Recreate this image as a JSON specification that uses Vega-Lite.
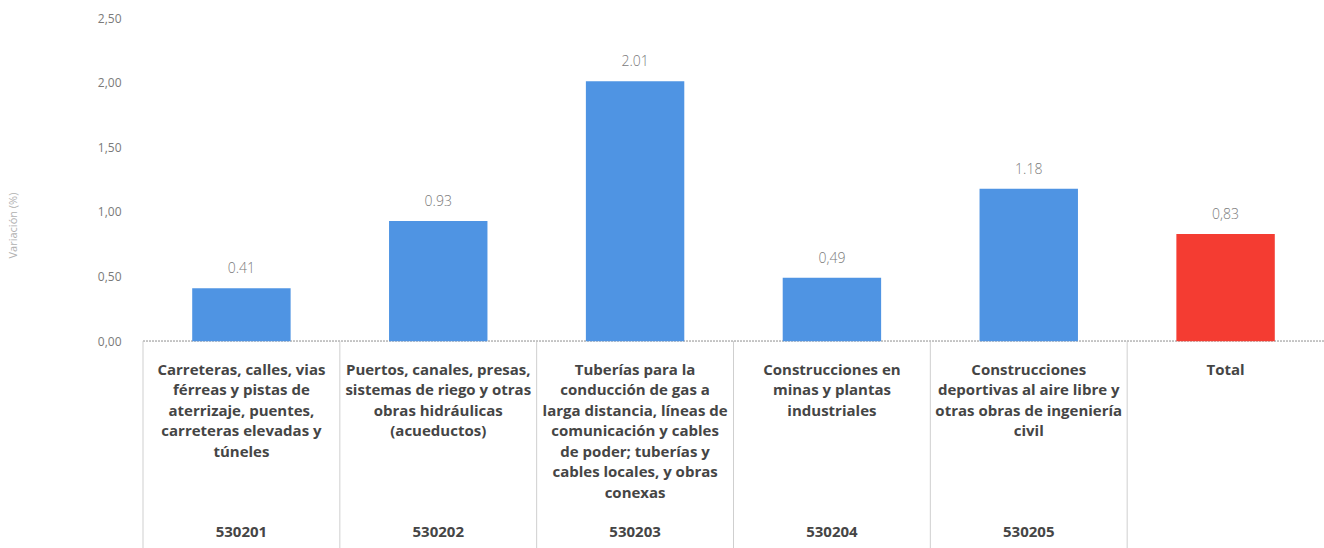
{
  "$schema": "https://vega.github.io/schema/vega-lite/v6.json",
  "width": 1181,
  "height": 530,
  "autosize": "none",
  "padding": {"left": 143, "top": 18, "right": 0, "bottom": 0},
  "background": "white",
  "config": {"view": {"stroke": null}},
  "data": {
    "values": [
      {"cat": "530201", "code": "530201", "value": 0.41, "label": "0.41", "kind": "sub", "desc": "Carreteras, calles, vias\nférreas y pistas de\naterrizaje, puentes,\ncarreteras elevadas y\ntúneles"},
      {"cat": "530202", "code": "530202", "value": 0.93, "label": "0.93", "kind": "sub", "desc": "Puertos, canales, presas,\nsistemas de riego y otras\nobras hidráulicas\n(acueductos)"},
      {"cat": "530203", "code": "530203", "value": 2.01, "label": "2.01", "kind": "sub", "desc": "Tuberías para la\nconducción de gas a\nlarga distancia, líneas de\ncomunicación y cables\nde poder; tuberías y\ncables locales, y obras\nconexas"},
      {"cat": "530204", "code": "530204", "value": 0.49, "label": "0,49", "kind": "sub", "desc": "Construcciones  en\nminas y plantas\nindustriales"},
      {"cat": "530205", "code": "530205", "value": 1.18, "label": "1.18", "kind": "sub", "desc": "Construcciones\ndeportivas al aire libre y\notras obras de ingeniería\ncivil"},
      {"cat": "Total", "code": "", "value": 0.83, "label": "0,83", "kind": "total", "desc": "Total"}
    ]
  },
  "encoding": {
    "x": {"field": "cat", "type": "nominal", "sort": null, "axis": null,
          "scale": {"paddingInner": 0, "paddingOuter": 0}}
  },
  "layer": [
    {
      "mark": {"type": "rule", "color": "#cfcfcf", "strokeWidth": 1},
      "encoding": {
        "x": {"field": "cat", "type": "nominal", "sort": null, "bandPosition": 0},
        "y": {"datum": 0},
        "y2": {"datum": -1.6}
      }
    },
    {
      "mark": {"type": "rule", "color": "#c4c4c4", "strokeWidth": 1, "strokeDash": [2, 1]},
      "encoding": {"x": null, "y": {"datum": 0}}
    },
    {
      "mark": {"type": "bar", "width": {"band": 0.5}},
      "encoding": {
        "y": {"field": "value", "type": "quantitative",
              "scale": {"domain": [-1.6, 2.5], "nice": false, "zero": false},
              "axis": {"values": [0, 0.5, 1, 1.5, 2, 2.5], "domain": false, "ticks": false, "grid": false,
                       "labelExpr": "replace(format(datum.value, '.2f'), '.', ',')",
                       "labelFont": "Open Sans", "labelFontSize": 12, "labelColor": "#7a7a7a", "labelPadding": 22,
                       "title": "Variación (%)", "titleFont": "Open Sans", "titleFontSize": 11, "titleFontWeight": "normal",
                       "titleColor": "#b0b0b0", "titleX": -125, "titleY": 207, "titleAngle": -90}},
        "color": {"field": "kind", "type": "nominal", "legend": null,
                  "scale": {"domain": ["sub", "total"], "range": ["#4f94e3", "#f43c32"]}}
      }
    },
    {
      "mark": {"type": "text", "baseline": "bottom", "dy": -12, "font": "Open Sans", "fontSize": 14, "fontWeight": 300, "color": "#7a7a7a"},
      "encoding": {
        "y": {"field": "value", "type": "quantitative"},
        "text": {"field": "label", "type": "nominal"}
      }
    },
    {
      "mark": {"type": "text", "baseline": "top", "align": "center", "lineBreak": "\n", "lineHeight": 20.5,
               "font": "Open Sans", "fontSize": 15, "fontWeight": "bold", "color": "#454545"},
      "encoding": {
        "y": {"datum": -0.165},
        "text": {"field": "desc", "type": "nominal"}
      }
    },
    {
      "mark": {"type": "text", "baseline": "middle", "align": "center",
               "font": "Open Sans", "fontSize": 15, "fontWeight": "bold", "color": "#454545"},
      "encoding": {
        "y": {"datum": -1.477},
        "text": {"field": "code", "type": "nominal"}
      }
    }
  ]
}
